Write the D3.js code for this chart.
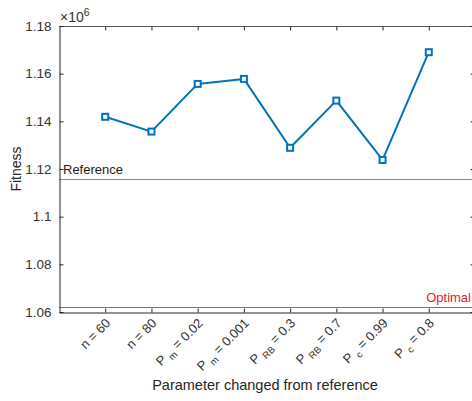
<!DOCTYPE html>
<html>
<head>
<meta charset="utf-8">
<script src="https://cdn.jsdelivr.net/npm/d3@7"></script>
<style>
  body { margin: 0; background: #fff; }
  svg { display: block; font-family: "Liberation Sans", Arial, sans-serif; }
</style>
</head>
<body>
<svg id="chart" width="472" height="401"></svg>
<script>
// Parameter variants: base symbol, subscript, value text
const labelBase = ["n", "n", "P", "P", "P", "P", "P", "P"];
const labelSub = ["", "", "m", "m", "RB", "RB", "c", "c"];
const labelValue = ["= 60", "= 80", "= 0.02", "= 0.001", "= 0.3", "= 0.7", "= 0.99", "= 0.8"];

// Fitness for each variant (x 10^6)
const fitness = [1.1419, 1.1357, 1.1557, 1.1578, 1.1289, 1.1487, 1.1238, 1.1690];

// Horizontal reference levels (x 10^6)
const referenceFitness = 1.1157;
const optimalFitness = 1.0622;

const yTicks = [1.06, 1.08, 1.1, 1.12, 1.14, 1.16, 1.18];
const yTickLabels = ["1.06", "1.08", "1.1", "1.12", "1.14", "1.16", "1.18"];

const svg = d3.select("#chart");
const plotLeft = 59, plotRight = 475, plotTop = 26, plotBottom = 312;
const axisColor = "#262626";
const blue = "#0072BD";

const x = d3.scaleLinear().domain([0, 9]).range([plotLeft, plotRight]);
const y = d3.scaleLinear().domain([1.06, 1.18]).range([plotBottom, plotTop]);
const idx = d3.range(1, fitness.length + 1);

// Plot box
const box = svg.append("g");
box.append("line").attr("x1", plotLeft).attr("x2", plotRight).attr("y1", plotTop + 0.5).attr("y2", plotTop + 0.5)
  .attr("stroke", "#5a5a5a").attr("stroke-width", 1);
box.append("line").attr("x1", plotRight - 0.5).attr("x2", plotRight - 0.5).attr("y1", plotTop).attr("y2", plotBottom)
  .attr("stroke", "#5a5a5a").attr("stroke-width", 1);

// Reference and optimal levels
svg.append("line")
  .attr("x1", plotLeft).attr("x2", plotRight)
  .attr("y1", Math.round(y(referenceFitness)) + 0.5).attr("y2", Math.round(y(referenceFitness)) + 0.5)
  .attr("stroke", "#8c8c8c").attr("stroke-width", 1);
svg.append("text")
  .attr("x", plotLeft + 4).attr("y", y(referenceFitness) - 5)
  .attr("font-size", 13).attr("fill", "#1a1a1a")
  .text("Reference");

svg.append("line")
  .attr("x1", plotLeft).attr("x2", plotRight)
  .attr("y1", Math.round(y(optimalFitness)) + 0.5).attr("y2", Math.round(y(optimalFitness)) + 0.5)
  .attr("stroke", "#e4454e").attr("stroke-width", 1);
svg.append("text")
  .attr("x", 471).attr("y", y(optimalFitness) - 5)
  .attr("text-anchor", "end")
  .attr("font-size", 13).attr("fill", "#e8202a")
  .text("Optimal");

// Left y axis with inward ticks
const yAxis = d3.axisLeft(y).tickValues(yTicks)
  .tickFormat((d, i) => yTickLabels[i]).tickSizeInner(-4).tickSizeOuter(0).tickPadding(8);
const gy = svg.append("g").attr("transform", `translate(${plotLeft + 0.5},0)`).call(yAxis);
gy.select(".domain").attr("stroke", axisColor);
gy.selectAll(".tick line").attr("stroke", axisColor);
gy.selectAll(".tick text").attr("font-size", 13.5).attr("fill", "#333")
  .attr("font-family", "Liberation Sans, Arial, sans-serif");

// Right-side inward ticks
const yRight = d3.axisRight(y).tickValues(yTicks).tickFormat("").tickSizeInner(-4).tickSizeOuter(0);
const gyr = svg.append("g").attr("transform", `translate(${plotRight - 0.5},0)`).call(yRight);
gyr.select(".domain").remove();
gyr.selectAll(".tick line").attr("stroke", axisColor);

// Bottom x axis with inward ticks
const xAxis = d3.axisBottom(x).tickValues(idx).tickFormat("").tickSizeInner(-4).tickSizeOuter(0);
const gx = svg.append("g").attr("transform", `translate(0,${plotBottom + 0.5})`).call(xAxis);
gx.select(".domain").attr("stroke", axisColor);
gx.selectAll(".tick line").attr("stroke", axisColor);

// Top ticks
const xTop = d3.axisTop(x).tickValues(idx).tickFormat("").tickSizeInner(-4).tickSizeOuter(0);
const gxt = svg.append("g").attr("transform", `translate(0,${plotTop + 0.5})`).call(xTop);
gxt.select(".domain").remove();
gxt.selectAll(".tick line").attr("stroke", axisColor);

// Rotated category labels with subscripts
const lbl = svg.append("g").selectAll("text").data(idx).join("text")
  .attr("transform", d => `translate(${x(d) + 6},${plotBottom + 12}) rotate(-45)`)
  .attr("text-anchor", "end")
  .attr("font-size", 13).attr("fill", "#333");
lbl.each(function (d, i) {
  const t = d3.select(this);
  if (labelSub[i]) {
    t.append("tspan").text(labelBase[i] + " ");
    t.append("tspan").attr("font-size", 9.5).attr("dy", 4).text(labelSub[i]);
    t.append("tspan").attr("dy", -4).text(" " + labelValue[i]);
  } else {
    t.append("tspan").text(labelBase[i] + " " + labelValue[i]);
  }
});

// Axis titles
svg.append("text")
  .attr("transform", `translate(21,${(plotTop + plotBottom) / 2}) rotate(-90)`)
  .attr("text-anchor", "middle").attr("font-size", 14).attr("fill", axisColor)
  .text("Fitness");
svg.append("text")
  .attr("x", (plotLeft + plotRight) / 2 - 2).attr("y", 390)
  .attr("text-anchor", "middle").attr("font-size", 14.5).attr("fill", axisColor)
  .text("Parameter changed from reference");

// Exponent label
const ex = svg.append("text").attr("x", plotLeft + 1).attr("y", 22).attr("font-size", 14).attr("fill", "#333");
ex.append("tspan").text("\u00d710");
ex.append("tspan").attr("font-size", 10.5).attr("dy", -6).text("6");

// Fitness series
const line = d3.line().x((d, i) => x(idx[i])).y(d => y(d));
svg.append("path").datum(fitness)
  .attr("d", line).attr("fill", "none")
  .attr("stroke", blue).attr("stroke-width", 2).attr("stroke-linejoin", "round");
svg.append("g").selectAll("rect").data(fitness).join("rect")
  .attr("x", (d, i) => x(idx[i]) - 3).attr("y", d => y(d) - 3)
  .attr("width", 6).attr("height", 6)
  .attr("fill", "#fff").attr("stroke", blue).attr("stroke-width", 2);
</script>
</body>
</html>
